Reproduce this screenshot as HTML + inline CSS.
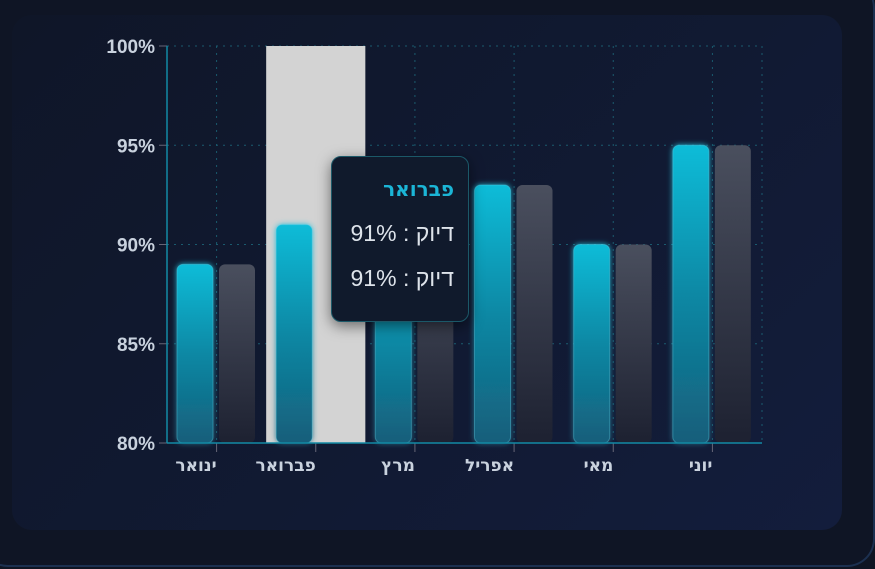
<!DOCTYPE html>
<html><head><meta charset="utf-8">
<style>
html,body{margin:0;padding:0;background:#0f1523;width:875px;height:569px;overflow:hidden}
#outer{position:absolute;left:-20px;top:-20px;width:893px;height:585px;border-radius:28px;border-right:2px solid #1c3050;border-bottom:2px solid #1c3050;background:#0f1525}
#card{position:absolute;left:12px;top:15px;width:830px;height:515px;border-radius:20px;background:linear-gradient(135deg,#0f1628 0%,#111a33 60%,#131d3c 100%)}
svg{position:absolute;left:0;top:0}
text{font-family:"Liberation Sans","DejaVu Sans",sans-serif}
text.heb{font-family:"DejaVu Sans",sans-serif}
#tip{position:absolute;left:331px;top:156px;width:138px;height:166px;box-sizing:border-box;border:1px solid #1b5868;border-radius:10px;background:#101a2c;box-shadow:0 4px 14px rgba(0,0,0,.5);direction:rtl;font-family:"DejaVu Sans",sans-serif;padding:0 14px}
#tip .t{color:#1bb5d6;font-weight:bold;font-size:20px;margin-top:20px;line-height:24px}
#tip .r{color:#dde3ea;margin-top:19px;line-height:26px;font-family:"Liberation Sans","DejaVu Sans",sans-serif;font-size:23px}
</style></head><body>
<div id="outer"></div>
<div id="card"></div>
<svg id="chart" width="875" height="569">
<defs>
<linearGradient id="gc" x1="0" y1="0" x2="0" y2="1"><stop offset="0" stop-color="#10bcd8"/><stop offset="0.5" stop-color="#0e88a4"/><stop offset="1" stop-color="#145e7a"/></linearGradient>
<linearGradient id="gg" x1="0" y1="0" x2="0" y2="1"><stop offset="0" stop-color="#4a4f5e"/><stop offset="1" stop-color="#1d2131"/></linearGradient>
<filter id="glow" x="-50%" y="-20%" width="200%" height="140%"><feGaussianBlur stdDeviation="3" result="b"/><feMerge><feMergeNode in="b"/><feMergeNode in="SourceGraphic"/></feMerge></filter>
</defs>
</svg>
<div id="tip">
<div class="t">פברואר</div>
<div class="r">דיוק : 91%</div>
<div class="r">דיוק : 91%</div>
</div>
<script>
const categories=["ינואר","פברואר","מרץ","אפריל","מאי","יוני"];
const seriesA=[89,91,90,93,90,95];
const seriesB=[89,91,90,93,90,95];
const yTicks=[80,85,90,95,100];
const tickLabels=["80%","85%","90%","95%","100%"];
const hovered=1;
const svg=document.getElementById('chart');
const NS='http://www.w3.org/2000/svg';
const X0=167,X1=762,Y0=443,Y1=46,MIN=80,MAX=100;
const bw=(X1-X0)/categories.length;
const y=v=>Y0-(v-MIN)/(MAX-MIN)*(Y0-Y1);
const xb=i=>X0+i*bw;
function el(t,a,p){const e=document.createElementNS(NS,t);for(const k in a)e.setAttribute(k,a[k]);(p||svg).appendChild(e);return e;}
yTicks.forEach((t,i)=>{
 let g=el('line',{x1:X0,x2:X1,y1:y(t),y2:y(t),stroke:'#1a5a6e','stroke-dasharray':'2 5','stroke-width':1});
 
 
 el('line',{x1:X0-8,x2:X0,y1:y(t),y2:y(t),stroke:'#667'});
 let tx=el('text',{x:X0-12,y:y(t)+7,'text-anchor':'end',fill:'#c9d2de','font-size':19,'font-weight':'bold'});
 tx.textContent=tickLabels[i];
 
 
});
categories.forEach((c,i)=>{
 const cx=xb(i)+bw/2;
 let g=el('line',{x1:cx,x2:cx,y1:Y1,y2:Y0,stroke:'#1a5a6e','stroke-dasharray':'2 5'});
 
 
});
el('line',{x1:X1,x2:X1,y1:Y1,y2:Y0,stroke:'#1a5a6e','stroke-dasharray':'2 5'});
let hb=el('rect',{x:xb(hovered),y:Y1,width:bw,height:Y0-Y1,fill:'#d3d3d3'});


categories.forEach((c,i)=>{
 const a=el('rect',{x:xb(i)+10,y:y(seriesA[i]),width:36,height:Y0-y(seriesA[i]),rx:6,fill:'url(#gc)',filter:'url(#glow)',stroke:'#5fd8ee','stroke-opacity':0.35});
 
 
 const b=el('rect',{x:xb(i)+52,y:y(seriesB[i]),width:36,height:Y0-y(seriesB[i]),rx:6,fill:'url(#gg)',opacity:i===hovered?0:1});
 
 
 const cx=xb(i)+bw/2;
 el('line',{x1:cx,x2:cx,y1:Y0,y2:Y0+9,stroke:'#667'});
 const t=el('text',{x:cx,y:Y0+28,'text-anchor':'end',fill:'#c9d2de','font-size':17,'font-weight':'bold','class':'heb'});
 t.textContent=c;
 
 
});
let ya=el('line',{x1:X0,x2:X0,y1:Y1,y2:Y0,stroke:'#128aa5','stroke-width':1.5});


let xa=el('line',{x1:X0,x2:X1,y1:Y0,y2:Y0,stroke:'#128aa5','stroke-width':1.5});


</script>
</body></html>
